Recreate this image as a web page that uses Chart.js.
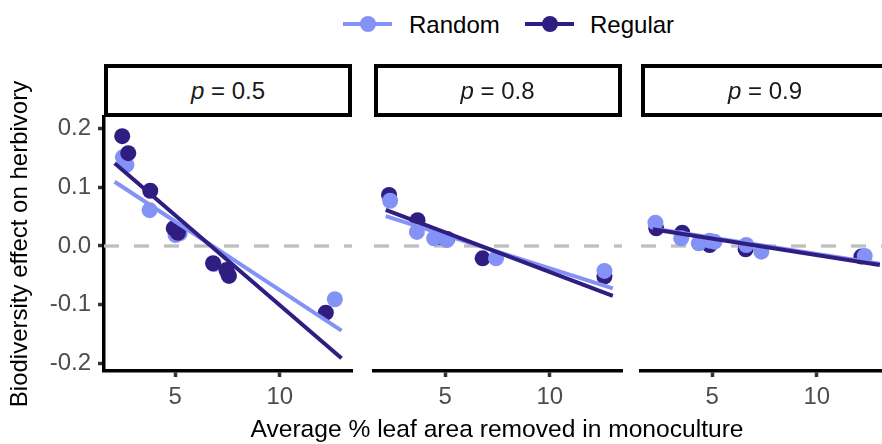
<!DOCTYPE html>
<html>
<head>
<meta charset="utf-8">
<script src="https://cdn.jsdelivr.net/npm/chart.js@4/dist/chart.umd.min.js"></script>
<style>
html,body{margin:0;padding:0;width:882px;height:444px;overflow:hidden;background:#fff;}
#wrap{position:relative;width:882px;height:444px;overflow:hidden;font-family:"Liberation Sans",Arial,Helvetica,sans-serif;color:#000;}
canvas{position:absolute;}
.strip{position:absolute;top:64px;height:53px;width:248px;box-sizing:border-box;border:4px solid #000;background:#fff;
  text-align:center;line-height:45px;font-size:24px;color:#1a1a1a;white-space:nowrap;}
.txt{position:absolute;font-size:24px;line-height:28px;white-space:nowrap;}
.lgline{position:absolute;height:4px;top:22px;width:49px;}
.lgdot{position:absolute;width:16px;height:16px;border-radius:50%;top:16px;}
</style>
</head>
<body>
<div id="wrap">
  <div class="lgline" style="left:343px;background:#8592f5"></div>
  <div class="lgdot" style="left:360px;background:#8592f5"></div>
  <div class="txt" style="left:409px;top:11px">Random</div>
  <div class="lgline" style="left:525px;background:#2f1d82"></div>
  <div class="lgdot" style="left:542px;background:#2f1d82"></div>
  <div class="txt" style="left:590px;top:11px">Regular</div>
  <div class="txt" style="left:197px;width:600px;text-align:center;top:415px;font-size:24.6px">Average % leaf area removed in monoculture</div>
</div>
<script>
// ---- data ----
const panelLabels = ['0.5', '0.8', '0.9'];
const seriesNames = ['Random', 'Regular'];
const xTicks = [5, 10];
const yTicks = [-0.2, -0.1, 0, 0.1, 0.2];

// p = 0.5
const randomX_p05  = [2.50, 2.67, 3.78, 5.02, 5.22, 6.85, 7.50, 12.63];
const randomY_p05  = [0.151, 0.138, 0.061, 0.0187, 0.0216, -0.031, -0.046, -0.0907];
const regularX_p05 = [2.47, 2.76, 3.81, 4.93, 5.13, 6.81, 7.45, 7.57, 12.20];
const regularY_p05 = [0.187, 0.158, 0.094, 0.030, 0.0226, -0.0294, -0.041, -0.051, -0.1135];
// p = 0.8
const randomX_p08  = [2.37, 3.65, 4.47, 5.08, 7.43, 12.61];
const randomY_p08  = [0.077, 0.024, 0.013, 0.0102, -0.021, -0.0425];
const regularX_p08 = [2.32, 3.68, 4.70, 5.10, 6.79, 12.61];
const regularY_p08 = [0.087, 0.044, 0.015, 0.012, -0.021, -0.052];
// p = 0.9
const randomX_p09  = [2.29, 3.52, 4.36, 4.88, 5.11, 6.63, 7.35, 12.29];
const randomY_p09  = [0.0397, 0.013, 0.0046, 0.0091, 0.0073, 0.0017, -0.0097, -0.017];
const regularX_p09 = [2.33, 3.57, 4.88, 6.60, 12.13];
const regularY_p09 = [0.030, 0.0226, 0.0017, -0.0056, -0.018];

// fitted lines (start / end)
const fitX_p05 = [2.11, 12.95];
const fitX_p08 = [2.16, 13.01];
const fitX_p09 = [2.16, 13.01];
const randomFitY_p05  = [0.1094, -0.144];
const regularFitY_p05 = [0.1408, -0.191];
const randomFitY_p08  = [0.051, -0.072];
const regularFitY_p08 = [0.0613, -0.085];
const randomFitY_p09  = [0.030, -0.030];
const regularFitY_p09 = [0.0284, -0.0323];

// ---- styling / layout ----
const COL_RANDOM = '#8592f5';
const COL_REGULAR = '#2f1d82';
const X_MIN = 1.6, X_MAX = 13.45;
const Y_MIN = -0.2128, Y_MAX = 0.2196;
const FONT = '"Liberation Sans", Arial, Helvetica, sans-serif';
const PANEL_W = 248, PANEL_H = 254, PANEL_TOP = 117;
const panelLefts = [104, 373.5, 641];

const panelData = [
  {rx: randomX_p05, ry: randomY_p05, gx: regularX_p05, gy: regularY_p05, fx: fitX_p05, rf: randomFitY_p05, gf: regularFitY_p05, regularOnTop: true},
  {rx: randomX_p08, ry: randomY_p08, gx: regularX_p08, gy: regularY_p08, fx: fitX_p08, rf: randomFitY_p08, gf: regularFitY_p08, regularOnTop: false},
  {rx: randomX_p09, ry: randomY_p09, gx: regularX_p09, gy: regularY_p09, fx: fitX_p09, rf: randomFitY_p09, gf: regularFitY_p09, regularOnTop: false},
];

const zip = (xs, ys) => xs.map((x, i) => ({x: x, y: ys[i]}));
const wrap = document.getElementById('wrap');

panelData.forEach((pd, i) => {
  const first = i === 0;
  const padL = first ? 0 : 10, padR = 10, padT = 45, xAxisH = 60;
  const yAxisW = first ? 104 : 0;
  const cv = document.createElement('canvas');
  const w = padL + yAxisW + PANEL_W + padR;
  const h = padT + PANEL_H + xAxisH;
  cv.width = w; cv.height = h;
  cv.style.width = w + 'px'; cv.style.height = h + 'px';
  cv.style.left = (panelLefts[i] - yAxisW - padL) + 'px';
  cv.style.top = (PANEL_TOP - padT) + 'px';
  wrap.insertBefore(cv, wrap.firstChild);

  // strip
  const st = document.createElement('div');
  st.className = 'strip';
  st.style.left = panelLefts[i] + 'px';
  st.innerHTML = '<i>p</i> = ' + panelLabels[i];
  wrap.appendChild(st);

  new Chart(cv, {
    type: 'scatter',
    data: {
      datasets: [
        {label: 'zero', data: [{x: X_MIN, y: 0}, {x: X_MAX, y: 0}], showLine: true,
         borderColor: '#bebebe', borderWidth: 3.3, borderDash: [15, 15], pointRadius: 0, order: 10},
        {label: seriesNames[0], data: zip(pd.rx, pd.ry), backgroundColor: COL_RANDOM,
         pointRadius: 8, pointBorderWidth: 0, order: pd.regularOnTop ? 6 : 5},
        {label: seriesNames[1], data: zip(pd.gx, pd.gy), backgroundColor: COL_REGULAR,
         pointRadius: 8, pointBorderWidth: 0, order: pd.regularOnTop ? 5 : 6},
        {label: seriesNames[0] + ' fit', data: zip(pd.fx, pd.rf), showLine: true,
         borderColor: COL_RANDOM, borderWidth: 4, pointRadius: 0, order: 2},
        {label: seriesNames[1] + ' fit', data: zip(pd.fx, pd.gf), showLine: true,
         borderColor: COL_REGULAR, borderWidth: 4, pointRadius: 0, order: 1},
      ]
    },
    options: {
      responsive: false,
      animation: false,
      devicePixelRatio: 1,
      layout: {padding: {left: padL, right: padR, top: padT, bottom: 0}},
      plugins: {legend: {display: false}, tooltip: {enabled: false}},
      scales: {
        x: {
          type: 'linear', min: X_MIN, max: X_MAX,
          afterBuildTicks: s => { s.ticks = xTicks.map(v => ({value: v})); },
          afterFit: s => { s.height = xAxisH; },
          grid: {display: true, drawOnChartArea: false, drawTicks: true, tickLength: 6,
                 tickWidth: 3.5, tickColor: '#333333'},
          border: {display: true, color: '#000', width: 3.5},
          ticks: {font: {family: FONT, size: 24}, color: '#4d4d4d', padding: 6,
                  maxRotation: 0, callback: v => String(v)}
        },
        y: {
          type: 'linear', min: Y_MIN, max: Y_MAX, display: first,
          afterBuildTicks: s => { s.ticks = yTicks.map(v => ({value: v})); },
          afterFit: s => { if (first) s.width = yAxisW; },
          grid: {display: true, drawOnChartArea: false, drawTicks: true, tickLength: 6,
                 tickWidth: 3.5, tickColor: '#333333'},
          border: {display: true, color: '#000', width: 3.5},
          ticks: {font: {family: FONT, size: 24}, color: '#4d4d4d', padding: 7,
                  callback: v => v.toFixed(1)},
          title: {display: first, text: 'Biodiversity effect on herbivory',
                  font: {family: FONT, size: 24}, color: '#000', padding: {top: 6, bottom: 0}}
        }
      }
    }
  });
});
</script>
</body>
</html>
